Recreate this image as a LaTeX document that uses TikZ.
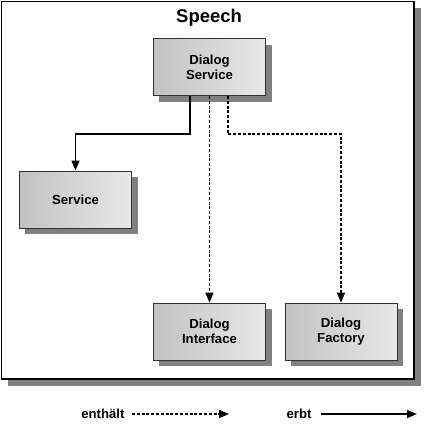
\documentclass[tikz,border=0pt]{standalone}
\usepackage{fontspec}
\setmainfont{Liberation Sans}
\usetikzlibrary{arrows.meta,shadows}

\begin{document}
\begin{tikzpicture}[x=1bp,y=-1bp,
   every node/.style={font=\fontsize{13.2}{15}\selectfont\bfseries},
   comp/.style={draw=black!80,line width=0.8bp,rectangle,align=center,
      minimum width=112bp,minimum height=57bp,
      left color=black!24,right color=black!9,
      drop shadow={shadow xshift=6bp,shadow yshift=-6bp,fill=black!50,opacity=1}},
   contains/.style={line width=1.6bp,dash pattern=on 3bp off 1.8bp,
      -{Triangle[length=10bp,width=8bp]}},
   inherits/.style={line width=1.6bp,-{Triangle[length=10bp,width=8bp]}}]

\useasboundingbox (0,0) rectangle (424,426);

% frame
\fill[black!50] (8,8) rectangle (421,386);
\draw[line width=1.8bp,fill=white] (1.5,1.5) rectangle (414,379);
\node (title) at (209,18) {\fontsize{18.5}{20}\selectfont Speech};

% components
\node[comp] (dlgsrv) at (209.5,67) {Dialog\\Service};
\node[comp] (srv) at (75.5,199.5) {Service};
\node[comp] (dlgif) at (209.5,331.5) {Dialog\\Interface};
\node[comp] (dlgfac) at (341,331.5) {Dialog\\Factory};

\draw[inherits] ([xshift=-19.5bp]dlgsrv.south) -- ++(0,38) -| (srv.north);
\draw[contains] (dlgsrv.south) -- (dlgif.north);
\draw[contains] ([xshift=18.5bp]dlgsrv.south) -- ++(0,38) -| (dlgfac.north);

% legend
\node[anchor=east] (enth) at (128,414) {enthält};
\coordinate (enthend) at (229,414);
\draw[contains] ([xshift=4bp]enth.east) -- (enthend);
\node[anchor=east] (erbt) at (315,414) {erbt};
\coordinate (erbtend) at (417,414);
\draw[inherits] ([xshift=6bp]erbt.east) -- (erbtend);

\end{tikzpicture}
\end{document}
